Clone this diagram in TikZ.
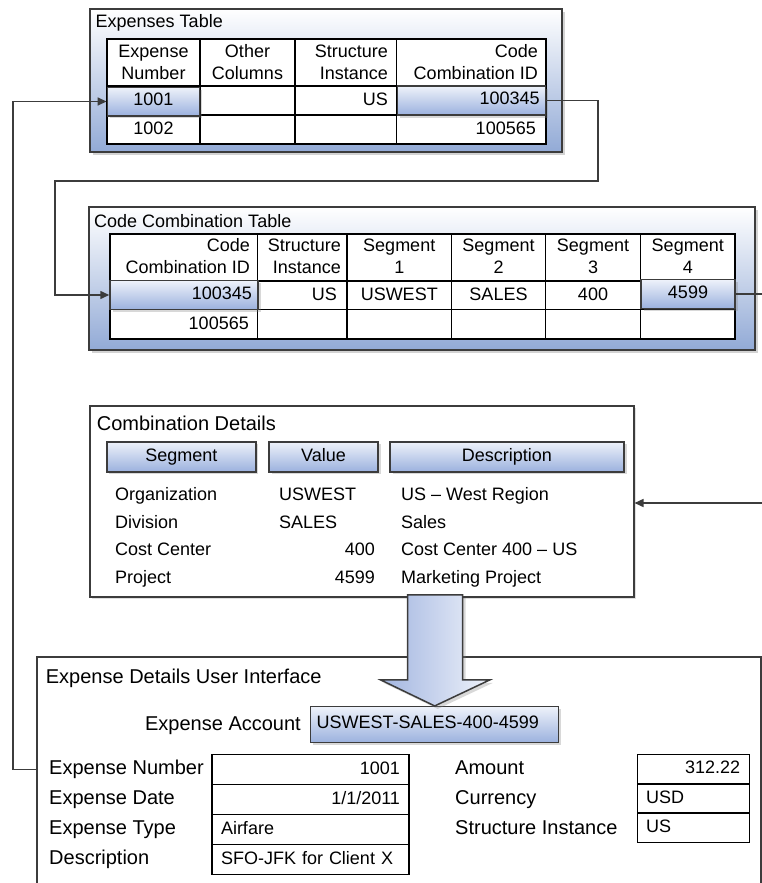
\documentclass[tikz,border=0pt]{standalone}
\usepackage{fontspec}
\setmainfont{Liberation Sans}
\usetikzlibrary{positioning,calc,arrows.meta,shadows}

\definecolor{edgegray}{RGB}{60,60,60}
\definecolor{panelblue}{RGB}{146,170,214}
\definecolor{cellblue}{RGB}{155,177,222}
\definecolor{celltop}{RGB}{238,242,250}
\definecolor{arrowblue}{RGB}{162,181,224}

\tikzset{
  cellfont/.style={font=\fontsize{18}{22}\selectfont, inner sep=0pt},
  titlefont/.style={font=\fontsize{20}{24}\selectfont, inner sep=0pt},
  panel/.style={draw=edgegray, line width=2pt, top color=white, bottom color=panelblue,
    drop shadow={shadow xshift=3pt, shadow yshift=-3pt, opacity=0.35}},
  framebox/.style={draw=edgegray, line width=1.5pt, fill=white,
    drop shadow={shadow xshift=2pt, shadow yshift=-2pt, opacity=0.25}},
  hicell/.style={cellfont, draw=edgegray, line width=1.5pt, top color=celltop, bottom color=cellblue,
    inner xsep=6pt, inner ysep=0pt, text height=12pt, text depth=3.5pt,
    drop shadow={shadow xshift=2.5pt, shadow yshift=-2.5pt, opacity=0.3}},
  tabline/.style={draw=black, line width=1.4pt},
  fieldbox/.style={cellfont, draw=black, line width=1.4pt, inner xsep=9pt, text height=12pt, text depth=3pt},
  wire/.style={draw=edgegray, line width=1.5pt},
  wirearrow/.style={-{Triangle[length=9pt,width=8pt]}},
  bigarrow/.style={draw=edgegray, line width=1.5pt, left color=arrowblue, right color=celltop,
    drop shadow={shadow xshift=3pt, shadow yshift=-3pt, opacity=0.3}},
}

\begin{document}
\begin{tikzpicture}[x=1pt,y=-1pt]
  \path[use as bounding box] (0,0) rectangle (762,883);
  \clip (0,0) rectangle (762,883);

  % Expenses Table
  \path[panel] (90,9) rectangle (562,152);
  \node[cellfont, anchor=base west] (exptitle) at (95.5,28) {Expenses Table};
  \draw[tabline, fill=white] (107,39) rectangle (546,144);
  \foreach \x in {200,295,396.7} \draw[tabline] (\x,39) -- (\x,144);
  \foreach \y in {86,115} \draw[tabline] (107,\y) -- (546,\y);
  \node[cellfont, align=center] (hnum) at (153.5,62) {Expense\\Number};
  \node[cellfont, align=center] (hother) at (247.5,62) {Other\\Columns};
  \node[cellfont, align=right, anchor=east] (hinst) at (388,62) {Structure\\Instance};
  \node[cellfont, align=right, anchor=east] (hccid) at (538,62) {Code\\Combination ID};
  \node[hicell, minimum width=92pt, minimum height=28.5pt] (num1001) at (153.3,101.5) {1001};
  \node[cellfont, anchor=east] (inst1) at (388,99) {US};
  \node[hicell, minimum width=148.4pt, minimum height=29pt, text width=136.4pt, align=right] (exp100345) at (471.5,100.5) {100345};
  \node[cellfont] (num1002) at (153.5,128.5) {1002};
  \node[cellfont, anchor=east] (exp100565) at (536,128.5) {100565};

  % Code Combination Table
  \path[panel] (89,207) rectangle (755,350);
  \node[cellfont, anchor=base west] (cctitle) at (94,227) {Code Combination Table};
  \draw[tabline, fill=white] (110,234) rectangle (735,339);
  \foreach \x in {257.5,347,451.5,545.5,640.5} \draw[tabline] (\x,234) -- (\x,339);
  \foreach \y in {281,309.5} \draw[tabline] (110,\y) -- (735,\y);
  \node[cellfont, align=right, anchor=east] (hcode) at (250,256) {Code\\Combination ID};
  \node[cellfont, align=right, anchor=east] (hstruct) at (341,256) {Structure\\Instance};
  \foreach \x/\n [count=\i] in {399.25/1,498.5/2,593/3,687.75/4}
    \node[cellfont, align=center] (hseg\i) at (\x,256) {Segment\\\n};
  \node[hicell, minimum width=148pt, minimum height=29pt, text width=136pt, align=right] (cc100345) at (184,295) {100345};
  \node[cellfont, anchor=east] (ccinst) at (337,294) {US};
  \node[cellfont] (seg1) at (399.25,294) {USWEST};
  \node[cellfont] (seg2) at (498.5,294) {SALES};
  \node[cellfont] (seg3) at (593,294) {400};
  \node[hicell, minimum width=94pt, minimum height=29pt] (seg4599) at (688,294) {4599};
  \node[cellfont, anchor=east] (cc100565) at (249,323) {100565};

  % links between the tables
  \coordinate (bendR) at (598,181);
  \coordinate (bendL) at (55,181);
  \coordinate (edgeA) at (762,294);
  \coordinate (edgeB) at (762,503);
  \draw[wire, wirearrow] (exp100345.east) -| (bendR) -- (bendL) |- (cc100345.west);
  \draw[wire] (seg4599.east) -- (seg4599.east -| edgeA);

  % Combination Details
  \node[framebox, anchor=north west, minimum width=544pt, minimum height=191pt] (details) at (89,405) {};
  \node[titlefont, anchor=base west] (dettitle) at (96.7,430) {Combination Details};
  \node[hicell, minimum width=149pt, minimum height=30pt] (bseg) at (181.3,456.8) {Segment};
  \node[hicell, minimum width=109pt, minimum height=30pt] (bval) at (323.5,456.8) {Value};
  \node[hicell, minimum width=234pt, minimum height=30pt] (bdesc) at (507,456.8) {Description};
  \foreach \s/\v/\vx/\va/\d [count=\i] in {Organization/USWEST/279/west/US -- West Region,
      Division/SALES/279/west/Sales, Cost Center/400/375/east/Cost Center 400 -- US,
      Project/4599/375/east/Marketing Project}{
    \node[cellfont, anchor=base west] (dseg\i) at (115,{500.7+27.6*(\i-1)}) {\s};
    \node[cellfont, anchor=base \va] (dval\i) at (\vx,{500.7+27.6*(\i-1)}) {\v};
    \node[cellfont, anchor=base west] (ddesc\i) at (401,{500.7+27.6*(\i-1)}) {\d};
  }
  \draw[wire, wirearrow] (edgeB) -- (edgeB -| details.east);

  % Expense Details User Interface
  \node[framebox, anchor=north west, minimum width=724pt, minimum height=250pt] (ui) at (36,656) {};
  \node[titlefont, anchor=base west] (uititle) at (45.7,683) {Expense Details User Interface};
  \node[titlefont, anchor=base east] (acctlbl) at (301,730) {Expense Account};
  \node[hicell, minimum width=248pt, minimum height=36pt, text width=236pt, align=left] (acct) at (434.7,724.7) {USWEST-SALES-400-4599};
  \foreach \l/\v/\al [count=\i] in {Expense Number/1001/right, Expense Date/{1/1/2011}/right,
      Expense Type/Airfare/left, Description/SFO-JFK for Client X/left}{
    \node[titlefont, anchor=base west] (flbl\i) at (49,{774.7+30*(\i-1)}) {\l};
    \node[fieldbox, minimum width=197pt, minimum height=30pt, text width=179pt, align=\al] (fbox\i) at (310.5,{769.5+30*(\i-1)}) {\v};
  }
  \foreach \l/\v/\al [count=\i] in {Amount/312.22/right, Currency/USD/left, Structure Instance/US/left}{
    \node[titlefont, anchor=base west] (rlbl\i) at (455,{774+30*(\i-1)}) {\l};
    \node[fieldbox, minimum width=112pt, minimum height=29.2pt, text width=94pt, align=\al] (rbox\i) at (693.2,{769.3+29.2*(\i-1)}) {\v};
  }
  \draw[wire, wirearrow] (flbl1.west -| ui.west) -- ++(-23,0) |- (num1001.west);

  % big arrow into the account field
  \draw[bigarrow] ($(acct.north)+(-27,-111)$) -- ++(0,85) -- ++(-27,0) -- (acct.north)
    -- ++(55,-26) -- ++(-27,0) -- ++(0,-85) -- cycle;
\end{tikzpicture}
\end{document}
